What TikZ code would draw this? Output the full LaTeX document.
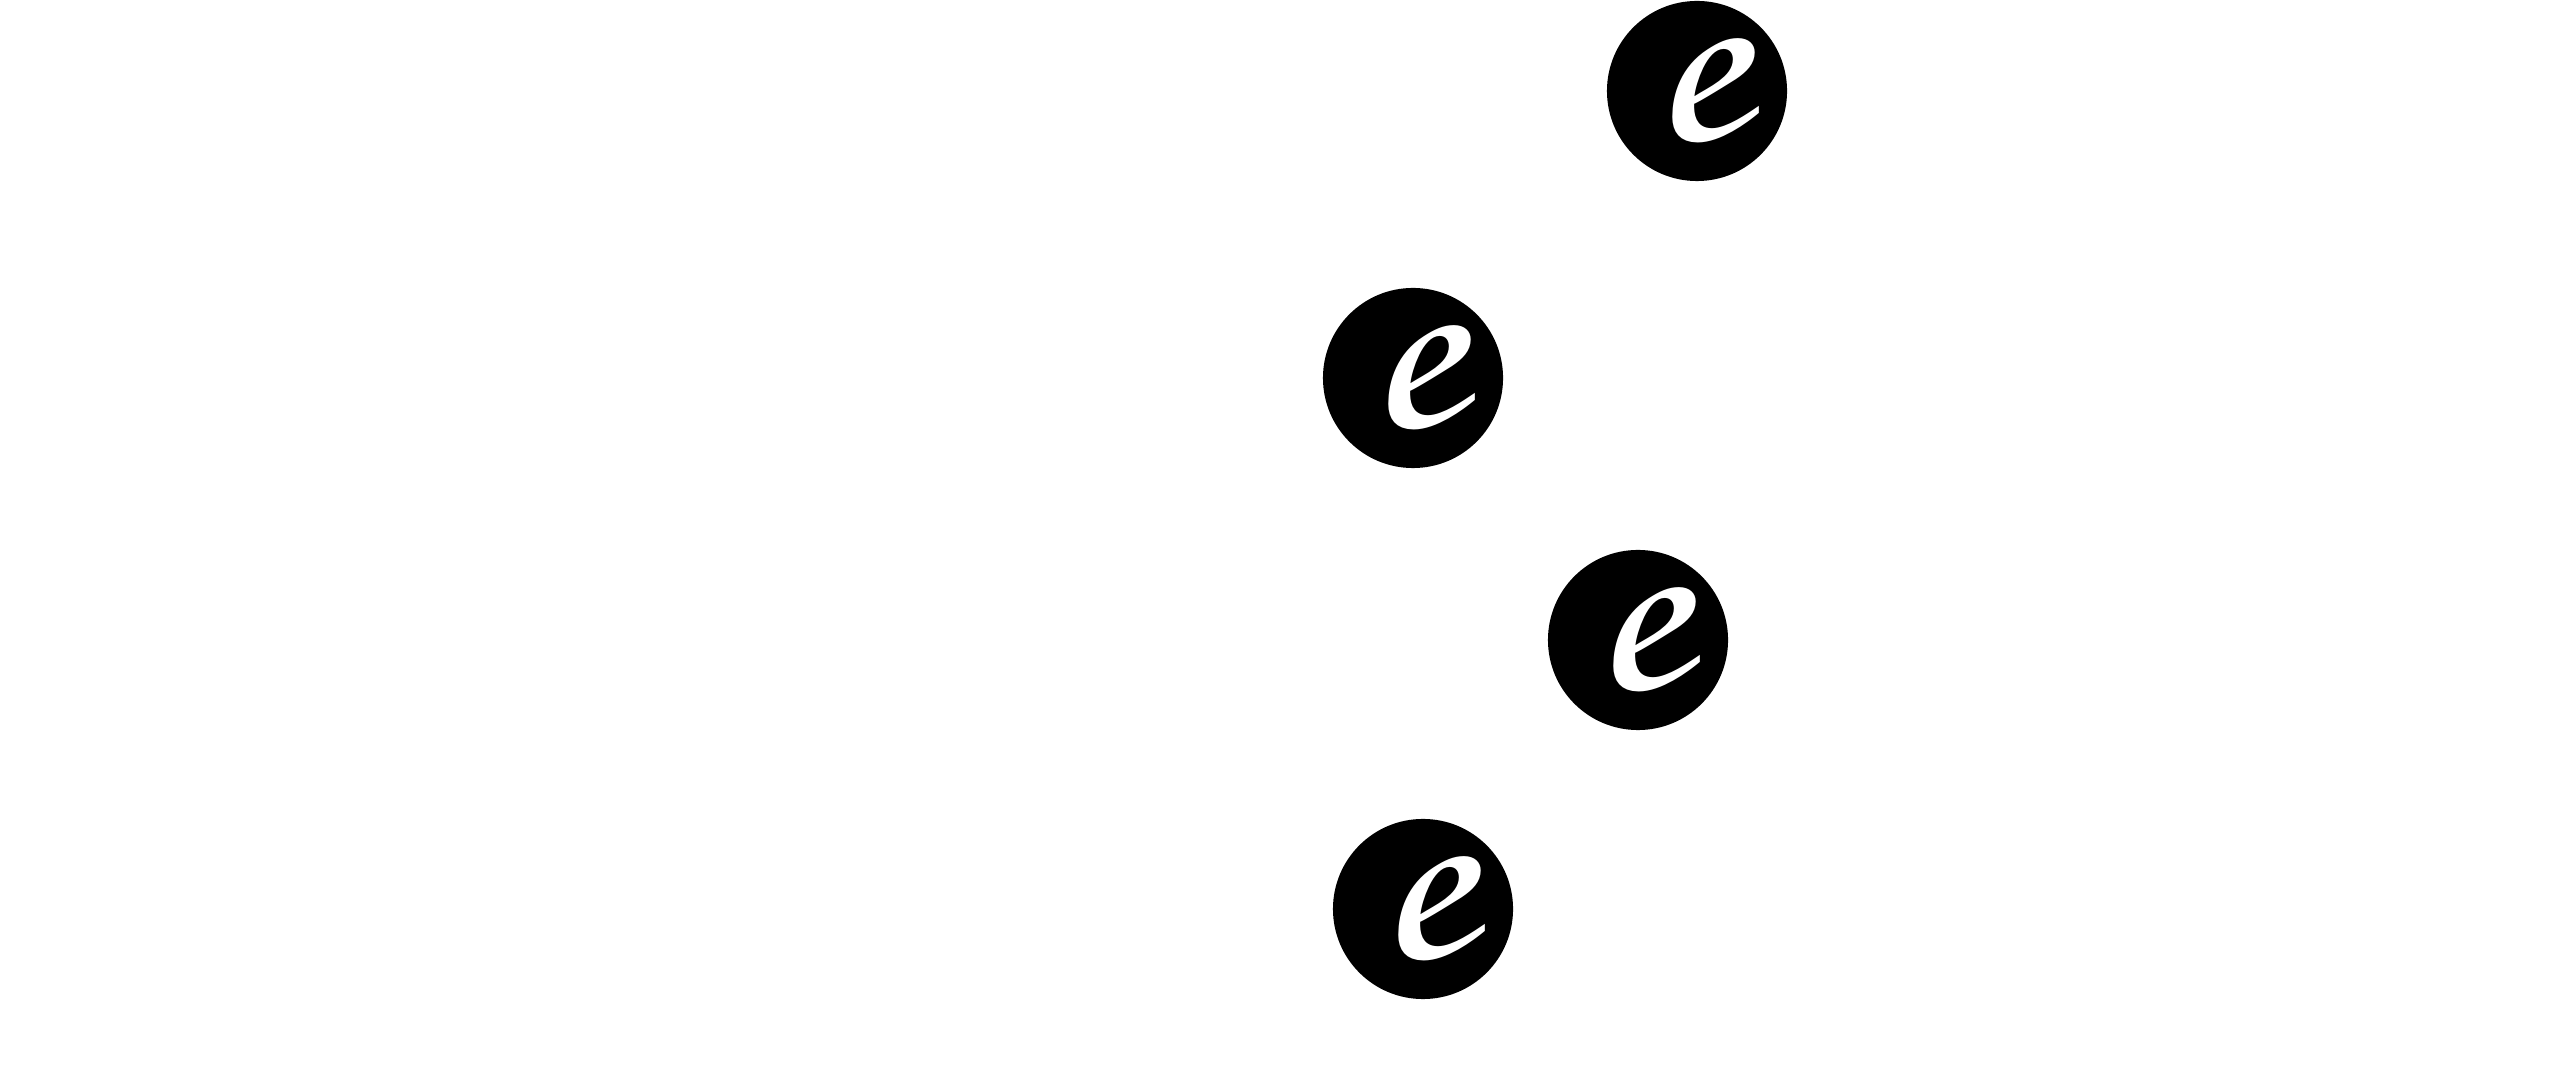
\documentclass[tikz,border=0pt]{standalone}
\usepackage{fontspec}
\newfontfamily\chorusfont{texgyrechorus-mediumitalic.otf}
\begin{document}
\begin{tikzpicture}[x=0.01cm,y=-0.01cm,
  ebox/.style={circle,fill=black,minimum size=1.8cm,inner sep=0pt,text=white,
    font=\fontsize{70}{70}\chorusfont}]
\useasboundingbox (0,0) rectangle (2560,1080);
\node[ebox] (e1) at (1697,91) {\scalebox{1.2}[1]{e}};
\node[ebox] (e2) at (1413,378) {\scalebox{1.2}[1]{e}};
\node[ebox] (e3) at (1638,640) {\scalebox{1.2}[1]{e}};
\node[ebox] (e4) at (1423,909) {\scalebox{1.2}[1]{e}};
\end{tikzpicture}
\end{document}
